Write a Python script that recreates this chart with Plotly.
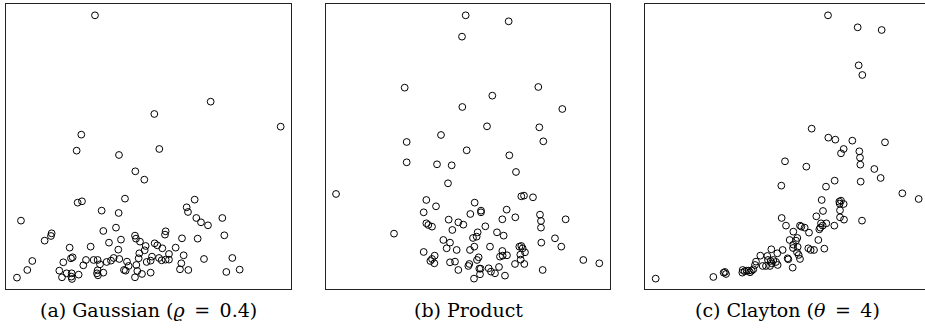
import plotly.graph_objects as go

# ---- data (arbitrary units) ----
gauss_x = [266, 613, 444, 823, 225, 211, 459, 338, 387, 414, 356, 565, 214, 227, 541, 545, 286, 337, 44, 570,
           584, 605, 648, 329, 291, 478, 476, 136, 134, 654, 115, 386, 389, 344, 527, 574, 308, 401, 445, 453,
           418, 468, 190, 253, 336, 415, 508, 399, 488, 78, 63, 32, 171, 159, 167, 181, 194, 199, 196, 195,
           197, 217, 231, 239, 262, 274, 281, 274, 272, 275, 291, 301, 314, 322, 339, 353, 358, 362, 367, 390,
           397, 393, 386, 407, 421, 433, 437, 433, 458, 466, 478, 488, 525, 521, 532, 546, 593, 660, 678, 700]
gauss_y = [822, 563, 526, 488, 464, 416, 421, 403, 354, 329, 272, 269, 260, 264, 246, 232, 236, 229, 206, 214,
           201, 192, 214, 185, 175, 174, 164, 168, 160, 162, 146, 161, 152, 149, 153, 152, 140, 143, 138, 132,
           130, 123, 125, 128, 119, 117, 125, 108, 106, 85, 58, 35, 81, 56, 36, 48, 93, 96, 48, 38,
           31, 44, 72, 88, 88, 88, 75, 57, 48, 42, 50, 82, 86, 94, 91, 58, 56, 83, 70, 73,
           93, 55, 36, 46, 82, 86, 98, 50, 94, 87, 89, 89, 78, 60, 102, 58, 91, 52, 94, 59]

prod_x = [420, 549, 409, 237, 638, 500, 410, 710, 484, 641, 346, 243, 653, 423, 551, 243, 334, 378, 571, 367,
          31, 587, 595, 622, 302, 331, 294, 302, 308, 319, 205, 447, 466, 466, 434, 543, 569, 530, 369, 398,
          413, 479, 380, 456, 453, 442, 514, 534, 643, 646, 646, 720, 353, 373, 363, 393, 433, 446, 493, 530,
          523, 531, 544, 581, 587, 591, 598, 584, 585, 596, 568, 647, 688, 707, 773, 821, 651, 294, 327, 319,
          314, 326, 373, 388, 398, 431, 428, 459, 454, 461, 465, 463, 489, 496, 508, 520, 538, 445]
prod_y = [822, 804, 758, 605, 607, 581, 547, 541, 489, 486, 463, 442, 444, 417, 402, 381, 375, 372, 352, 318,
          286, 279, 281, 276, 268, 249, 231, 198, 193, 188, 167, 260, 236, 231, 226, 239, 216, 210, 209, 201,
          194, 189, 178, 171, 158, 154, 171, 161, 224, 205, 185, 210, 148, 140, 123, 118, 118, 128, 128, 115,
          98, 101, 102, 128, 130, 123, 111, 104, 89, 76, 76, 140, 153, 128, 88, 78, 58, 112, 101, 91,
          85, 78, 81, 83, 58, 76, 70, 96, 88, 62, 62, 45, 63, 53, 48, 67, 41, 32]

clay_x = [549, 638, 710, 641, 652, 500, 550, 571, 622, 720, 596, 588, 643, 645, 646, 420, 484, 688, 707, 569,
          647, 409, 543, 772, 821, 530, 583, 588, 596, 584, 585, 534, 514, 585, 597, 651, 410,
          32, 205, 236, 243, 240, 292, 293, 299, 305, 311, 315, 320, 325, 330, 333, 346, 353, 363, 369,
          367, 375, 377, 380, 379, 385, 393, 398, 397, 413, 428, 430, 434, 445, 443, 445, 453, 457, 458,
          444, 456, 461, 465, 423, 465, 469, 479, 492, 490, 497, 507, 520, 538, 528, 533, 526, 523, 544, 568]
clay_y = [822, 786, 778, 672, 643, 482, 455, 449, 446, 441, 421, 408, 414, 395, 374, 384, 368, 361, 334, 326,
          323, 311, 308, 288, 271, 268, 263, 266, 256, 257, 237, 235, 219, 216, 209, 206, 214,
          32, 37, 50, 46, 52, 50, 58, 54, 56, 56, 51, 56, 60, 73, 83, 101, 70, 70, 88,
          100, 70, 85, 78, 120, 88, 82, 73, 108, 118, 93, 90, 148, 173, 65, 134, 146, 154, 127,
          124, 111, 103, 91, 191, 191, 188, 185, 170, 123, 118, 118, 148, 122, 198, 191, 185, 180, 198, 191]

captions = ["(a) Gaussian (<i>ϱ</i>\u2002=\u20020.4)", "(b) Product", "(c) Clayton (<i>θ</i>\u2002=\u20024)"]
series = [(gauss_x, gauss_y), (prod_x, prod_y), (clay_x, clay_y)]

W, H = 925, 333
panels_px = [(6.3, 291.0), (325.7, 610.3), (645.0, 925.0)]
x_ranges = [[0, 854], [0, 854], [0, 840]]
y_dom = [1 - 289.3 / H, 1 - 4.0 / H]

fig = go.Figure()
for i, (xs, ys) in enumerate(series):
    k = "" if i == 0 else str(i + 1)
    fig.add_trace(go.Scatter(
        x=xs, y=ys, mode="markers", xaxis="x" + k, yaxis="y" + k,
        marker=dict(symbol="circle-open", size=6.8, color="black", line=dict(width=1, color="black")),
        showlegend=False, hoverinfo="skip"))
    x0, x1 = panels_px[i]
    axis_common = dict(showgrid=False, zeroline=False, showticklabels=False, ticks="",
                       showline=True, linecolor="#222", linewidth=1)
    fig.layout["xaxis" + k] = dict(domain=[x0 / W, x1 / W], range=x_ranges[i], anchor="y" + k,
                                   mirror=True, **axis_common)
    fig.layout["yaxis" + k] = dict(domain=y_dom, range=[0, 856], anchor="x" + k,
                                   mirror=(i < 2), **axis_common)
    fig.add_annotation(text=captions[i], x=(x0 + (x1 if i < 2 else 929.7)) / 2 / W, y=1 - 310 / H,
                       xref="paper", yref="paper", showarrow=False, xanchor="center", yanchor="middle",
                       font=dict(family="DejaVu Serif", size=19, color="black"))

fig.update_layout(width=W, height=H, margin=dict(l=0, r=0, t=0, b=0),
                  paper_bgcolor="white", plot_bgcolor="white")
fig.write_html("out.html", config={"displayModeBar": False},
               post_script="document.body.style.margin='0';document.body.style.overflow='hidden';")
